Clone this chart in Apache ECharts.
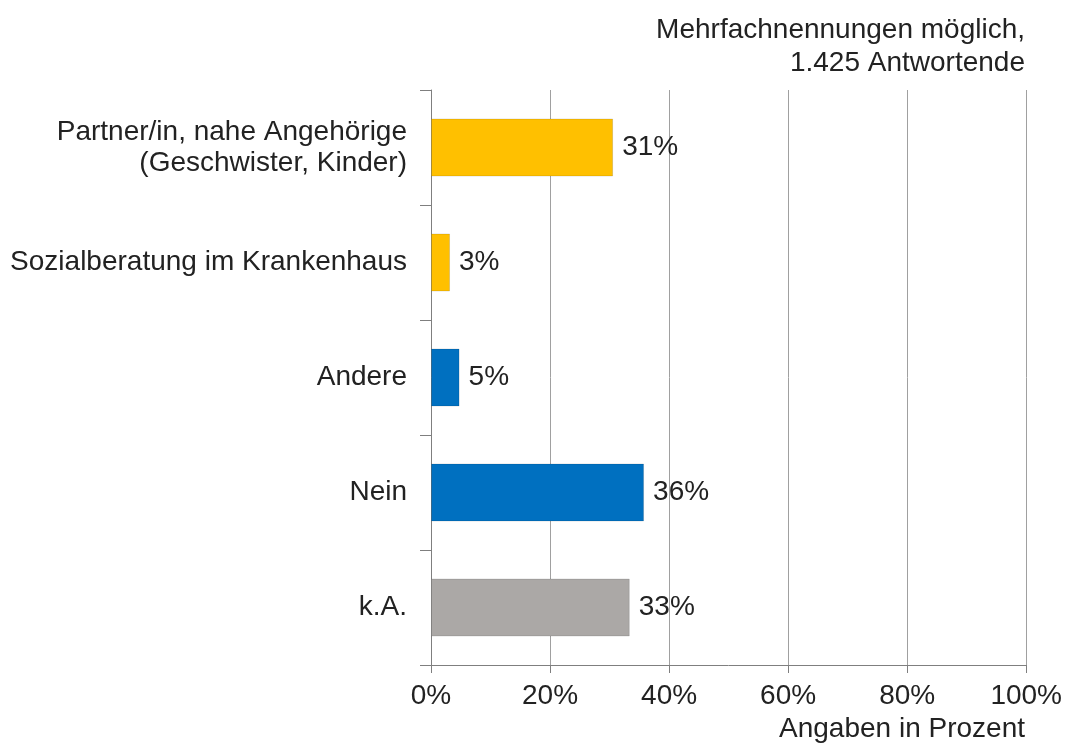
<!DOCTYPE html>
<html>
<head>
<meta charset="utf-8">
<script src="https://cdn.jsdelivr.net/npm/echarts@6/dist/echarts.min.js"></script>
<style>
  html, body { margin: 0; padding: 0; background: #fff; }
  #chart { width: 1065px; height: 745px; }
</style>
</head>
<body>
<div id="chart"></div>
<script>
const categories = [
  'Partner/in, nahe Angehörige\n(Geschwister, Kinder)',
  'Sozialberatung im Krankenhaus',
  'Andere',
  'Nein',
  'k.A.'
];
const values = [30.6, 3.2, 4.8, 35.8, 33.4];
const labels = ['31%', '3%', '5%', '36%', '33%'];
const barColors = ['#FFC000', '#FFC000', '#0070C0', '#0070C0', '#ABA8A6'];
const xTicks = [0, 20, 40, 60, 80, 100];

const font = 'Liberation Sans, Arial, sans-serif';
const textColor = '#222222';

const chart = echarts.init(document.getElementById('chart'));

const option = {
  animation: false,
  grid: {
    left: 431,
    right: 37,
    top: 90,
    bottom: 80,
    containLabel: false
  },
  xAxis: {
    type: 'value',
    min: 0,
    max: 100,
    interval: 20,
    axisLine: { show: true, lineStyle: { color: '#7f7f7f', width: 1 } },
    axisTick: { show: true, length: 8, lineStyle: { color: '#7f7f7f' } },
    splitLine: { show: true, lineStyle: { color: '#a0a0a0', width: 1 } },
    axisLabel: {
      margin: 17,
      fontSize: 28,
      fontFamily: font,
      color: textColor,
      formatter: (v) => (xTicks.indexOf(v) >= 0 ? v + '%' : '')
    }
  },
  yAxis: {
    type: 'category',
    inverse: true,
    data: categories,
    axisLine: { show: true, lineStyle: { color: '#7f7f7f', width: 1 } },
    axisTick: { show: true, length: 11, alignWithLabel: false, lineStyle: { color: '#7f7f7f' } },
    axisLabel: {
      margin: 24,
      fontSize: 28,
      lineHeight: 31,
      fontFamily: font,
      color: textColor,
      align: 'right'
    }
  },
  series: [
    {
      type: 'bar',
      barWidth: 58,
      data: values.map((v, i) => ({
        value: v,
        itemStyle: { color: barColors[i] }
      })),
      itemStyle: { borderColor: 'rgba(0,0,0,0.12)', borderWidth: 1 },
      label: {
        show: true,
        position: 'right',
        distance: 9,
        fontSize: 28,
        fontFamily: font,
        color: textColor,
        formatter: (p) => labels[p.dataIndex]
      }
    }
  ],
  graphic: [
    {
      type: 'text',
      x: 1025,
      y: 14,
      style: {
        text: 'Mehrfachnennungen möglich,\n1.425 Antwortende',
        fontSize: 28,
        lineHeight: 33,
        fontFamily: font,
        fill: textColor,
        align: 'right',
        verticalAlign: 'top'
      }
    },
    {
      type: 'text',
      x: 1025,
      y: 715,
      style: {
        text: 'Angaben in Prozent',
        fontSize: 28,
        fontFamily: font,
        fill: textColor,
        align: 'right',
        verticalAlign: 'top'
      }
    }
  ]
};

chart.setOption(option);
</script>
</body>
</html>
